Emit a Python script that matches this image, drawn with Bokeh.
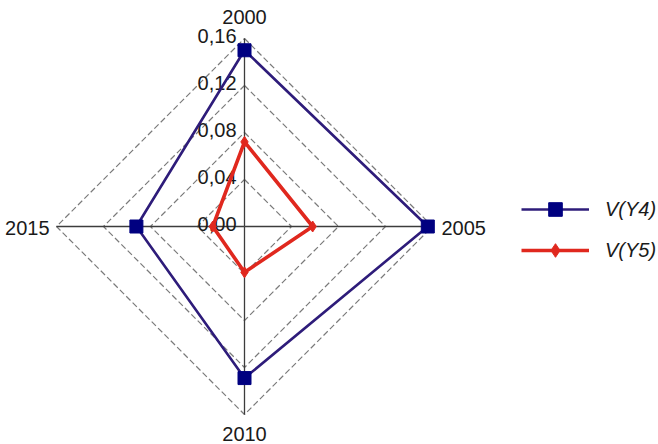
import math
from bokeh.plotting import figure
from bokeh.models import Range1d, Legend, LegendItem
from bokeh.core.properties import value
from bokeh.embed import file_html
from bokeh.resources import INLINE

# ---- data ----
categories = ["2000", "2005", "2010", "2015"]
y4_values = [0.150, 0.156, 0.129, 0.092]
y5_values = [0.072, 0.058, 0.039, 0.027]
tick_values = [0.00, 0.04, 0.08, 0.12, 0.16]
tick_labels = ["0,00", "0,04", "0,08", "0,12", "0,16"]
series_names = ["V(Y4)", "V(Y5)"]

r_max = tick_values[-1]
# angles: 2000 top, then clockwise
angles = [math.pi / 2 - i * 2 * math.pi / len(categories) for i in range(len(categories))]

def polar(vals):
    xs = [v * math.cos(a) for v, a in zip(vals, angles)]
    ys = [v * math.sin(a) for v, a in zip(vals, angles)]
    return xs, ys

FONT = value("Liberation Sans")
W, H = 658, 444
scale = 188 / r_max  # px per unit
cx, cy = 244, 226
p = figure(width=W, height=H, output_backend="svg", toolbar_location=None,
           x_range=Range1d(-cx / scale, (W - cx) / scale),
           y_range=Range1d(-(H - cy) / scale, cy / scale),
           min_border=0)
p.axis.visible = False
p.grid.visible = False
p.outline_line_color = None
p.background_fill_color = "white"

# dashed rings
for t in tick_values[1:]:
    xs, ys = polar([t] * len(categories))
    p.line(xs + [xs[0]], ys + [ys[0]], line_color="#7a7a7a", line_width=1.2, line_dash="6 3")

# spokes
ex, ey = polar([r_max] * len(categories))
p.segment(x0=[0] * len(categories), y0=[0] * len(categories), x1=ex, y1=ey,
          line_color="#3c3c3c", line_width=1.3)

# tick labels along top spoke
p.text(x=[0] * len(tick_values), y=tick_values, text=tick_labels,
       text_align="right", text_baseline="middle", x_offset=-8, y_offset=-3,
       text_font=FONT, text_font_size="20px", text_color="#1a1a1a")

# category labels
offs = [(0, -22, "center"), (9, 1, "left"), (0, 19, "center"), (-7, 1, "right")]
for (x, y, c, (dx, dy, al)) in zip(ex, ey, categories, offs):
    p.text(x=[x], y=[y], text=[c], text_align=al, text_baseline="middle",
           x_offset=dx, y_offset=dy, text_font=FONT, text_font_size="20px",
           text_color="#1a1a1a")

# series
x4, y4 = polar(y4_values)
x5, y5 = polar(y5_values)
l4 = p.line(x4 + [x4[0]], y4 + [y4[0]], line_color="#2e1c7a", line_width=2.6)
s4 = p.scatter(x4, y4, marker="square", size=13, fill_color="#000080", line_color="#000080")
l5 = p.line(x5 + [x5[0]], y5 + [y5[0]], line_color="#e0281e", line_width=3.6)
s5 = p.scatter(x5, y5, marker="diamond", size=11, fill_color="#e0281e", line_color="#e0281e")

legend = Legend(items=[LegendItem(label=series_names[0], renderers=[l4, s4]),
                       LegendItem(label=series_names[1], renderers=[l5, s5])],
                location=(521, 177), orientation="vertical",
                glyph_width=68, glyph_height=34, label_height=34, spacing=7,
                label_standoff=16, padding=0, margin=0,
                border_line_color=None, background_fill_alpha=0,
                label_text_font="Liberation Sans", label_text_font_size="20px",
                label_text_font_style="italic", label_text_color="#1a1a1a")
p.add_layout(legend, "center")

open("out.html", "w").write(file_html(p, INLINE))
